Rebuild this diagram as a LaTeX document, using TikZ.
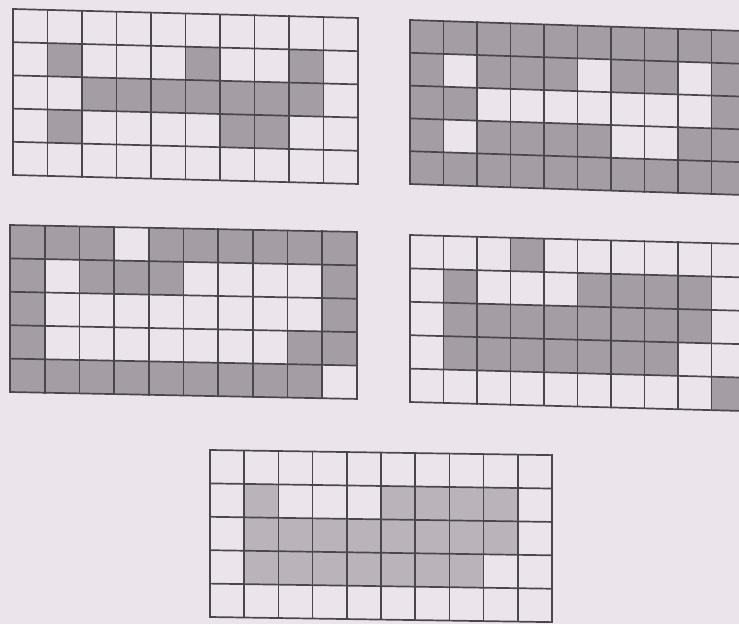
\documentclass[tikz,border=0pt]{standalone}
\definecolor{paper}{RGB}{235,229,235}
\definecolor{shade}{RGB}{164,158,164}
\definecolor{lightshade}{RGB}{186,180,186}
\definecolor{ink}{RGB}{74,70,74}
\tikzset{
  gridline/.style={draw=ink,line width=1.7pt,line cap=rect},
  cellfill/.style={fill=#1}
}
% #1 x0, #2 y0, #3 cell width, #4 cell height, #5 slant, #6 fill colour, #7 shaded cells col/row
\newcommand\cellgrid[7]{%
  \begin{scope}[shift={(#1,#2)},yslant=#5]
    \foreach \c/\r in {#7}
      \fill[cellfill=#6] ({(\c-1)*#3},{(\r-1)*#4}) rectangle ({\c*#3},{\r*#4});
    \foreach \i in {0,...,10}
      \draw[gridline] ({\i*#3},0) -- ({\i*#3},{5*#4});
    \foreach \j in {0,...,5}
      \draw[gridline] (0,{\j*#4}) -- ({10*#3},{\j*#4});
  \end{scope}}
\begin{document}
\begin{tikzpicture}[x=1pt,y=-1pt]
  \fill[paper] (0,0) rectangle (739,624);
  \useasboundingbox (0,0) rectangle (739,624);
  \clip (0,0) rectangle (739,624);
  % top left
  \cellgrid{13}{9}{34.5}{33.2}{-0.026}{shade}{2/2,6/2,9/2,3/3,4/3,5/3,6/3,7/3,8/3,9/3,2/4,7/4,8/4}
  % top right (complement)
  \cellgrid{410}{20}{33.5}{32.8}{-0.033}{shade}{1/1,2/1,3/1,4/1,5/1,6/1,7/1,8/1,9/1,10/1,
    1/2,3/2,4/2,5/2,7/2,8/2,10/2,1/3,2/3,10/3,1/4,3/4,4/4,5/4,6/4,9/4,10/4,
    1/5,2/5,3/5,4/5,5/5,6/5,7/5,8/5,9/5,10/5}
  % middle left
  \cellgrid{10}{225}{34.7}{33.4}{-0.02}{shade}{1/1,2/1,3/1,5/1,6/1,7/1,8/1,9/1,10/1,
    1/2,3/2,4/2,5/2,10/2,1/3,10/3,1/4,9/4,10/4,
    1/5,2/5,3/5,4/5,5/5,6/5,7/5,8/5,9/5}
  % middle right
  \cellgrid{410}{235}{33.5}{33.4}{-0.027}{shade}{4/1,2/2,6/2,7/2,8/2,9/2,
    2/3,3/3,4/3,5/3,6/3,7/3,8/3,9/3,2/4,3/4,4/4,5/4,6/4,7/4,8/4,10/5}
  % bottom
  \cellgrid{210}{450}{34.2}{33.4}{-0.015}{lightshade}{2/2,6/2,7/2,8/2,9/2,
    2/3,3/3,4/3,5/3,6/3,7/3,8/3,9/3,2/4,3/4,4/4,5/4,6/4,7/4,8/4}
\end{tikzpicture}
\end{document}
